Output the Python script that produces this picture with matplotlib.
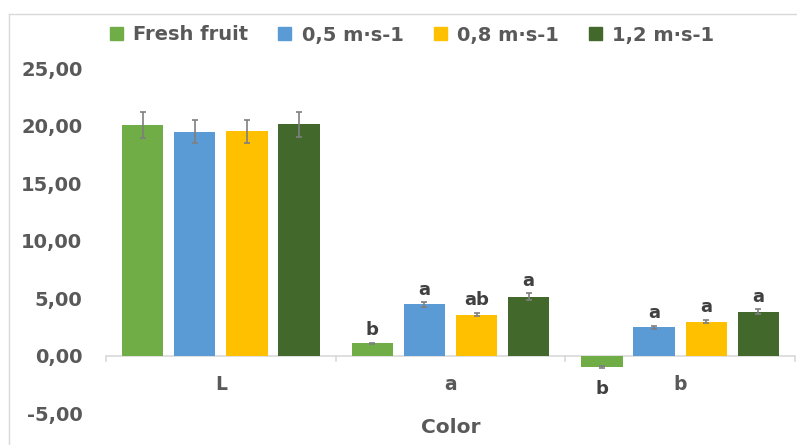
import numpy as np
import matplotlib.pyplot as plt
from matplotlib.lines import Line2D
import matplotlib.patches as mpatches

plt.rcParams['font.family'] = ['DejaVu Sans']

categories = ['L', 'a', 'b']
series = ['Fresh fruit', '0,5 m·s-1', '0,8 m·s-1', '1,2 m·s-1']
colors = ['#70AD47', '#5B9BD5', '#FFC000', '#43682B']

fresh = [20.05, 1.07, -1.0]
v05 = [19.45, 4.45, 2.46]
v08 = [19.5, 3.56, 2.95]
v12 = [20.1, 5.1, 3.82]
values = [fresh, v05, v08, v12]

err_fresh = [1.1, 0.05, 0.05]
err_05 = [1.0, 0.2, 0.12]
err_08 = [1.0, 0.15, 0.15]
err_12 = [1.1, 0.3, 0.2]
errors = [err_fresh, err_05, err_08, err_12]

letters_fresh = ['', 'b', 'b']
letters_05 = ['', 'a', 'a']
letters_08 = ['', 'ab', 'a']
letters_12 = ['', 'a', 'a']
letters = [letters_fresh, letters_05, letters_08, letters_12]

txt = '#595959'
fig = plt.figure(figsize=(7.97, 4.45), dpi=100)
ax = fig.add_axes([0.133, 0.0719, 0.8645, 0.775])

x = np.arange(len(categories))
slot = 0.227
width = 0.18
for i, (vals, errs, labs) in enumerate(zip(values, errors, letters)):
    pos = x + (i - 1.5) * slot
    ax.bar(pos, vals, width=width, color=colors[i], label=series[i], zorder=2,
           yerr=errs, error_kw=dict(ecolor='#7F7F7F', elinewidth=1.2, capsize=2.5, capthick=1.2))
    for p, v, e, l in zip(pos, vals, errs, labs):
        if not l:
            continue
        if v >= 0:
            ax.annotate(l, (p, v + e), xytext=(0, 2.5), textcoords='offset points',
                        ha='center', va='bottom', fontsize=13, fontweight='bold', color='#404040')
        else:
            ax.annotate(l, (p, v - e), xytext=(0, -9), textcoords='offset points',
                        ha='center', va='top', fontsize=13, fontweight='bold', color='#404040')

ax.set_xlim(-0.5, 2.5)
ax.set_ylim(-5, 25)
ax.set_yticks(np.arange(-5, 26, 5))
ax.yaxis.set_major_formatter(plt.FuncFormatter(lambda v, p: ('%.2f' % v).replace('.', ',')))
for s in ['top', 'right', 'left', 'bottom']:
    ax.spines[s].set_visible(False)
ax.axhline(0, color='#D9D9D9', lw=1.2, zorder=1)
for b in [-0.5, 0.5, 1.5, 2.5]:
    ax.plot([b, b], [0, -0.5], color='#D9D9D9', lw=1.2, clip_on=False, zorder=1)
ax.tick_params(axis='y', length=0, labelsize=14, labelcolor=txt, pad=17)
ax.set_xticks([])
for lab in ax.get_yticklabels():
    lab.set_fontweight('bold')
for xi, c in zip(x, categories):
    ax.text(xi, -2.5, c, ha='center', va='center', fontsize=13.5, fontweight='bold', color=txt)
ax.text(1, -6.3, 'Color', ha='center', va='center', fontsize=14.5, fontweight='bold', color=txt)

handles = [mpatches.Patch(color=c, label=s) for c, s in zip(colors, series)]
fig.legend(handles=handles, loc='center', bbox_to_anchor=(0.517, 1 - 35 / 445), ncol=4, frameon=False,
           prop=dict(size=14, weight='bold'), labelcolor=txt,
           handlelength=0.67, handleheight=0.62, handletextpad=0.52, columnspacing=1.55)

fig.add_artist(Line2D([9 / 797, 1], [1 - 14 / 445] * 2, color='#D9D9D9', lw=1))
fig.add_artist(Line2D([9 / 797] * 2, [0, 1 - 14 / 445], color='#D9D9D9', lw=1))

fig.savefig('out.png', dpi=100)
